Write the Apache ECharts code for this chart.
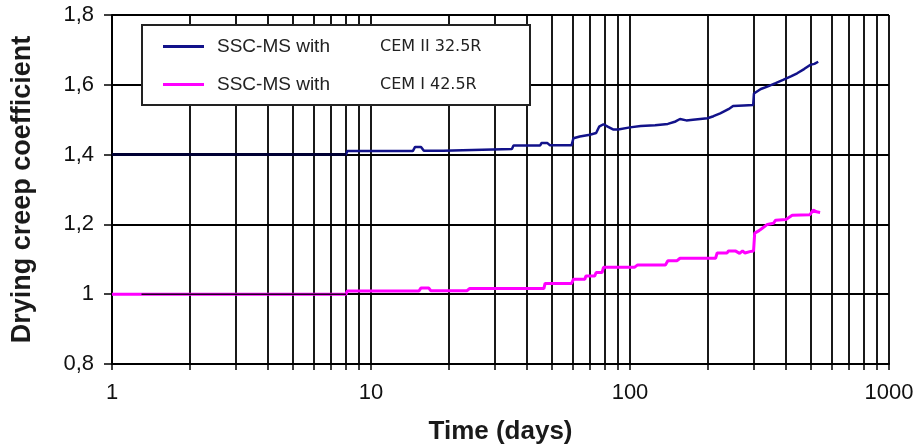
<!DOCTYPE html>
<html>
<head>
<meta charset="utf-8">
<script src="https://cdn.jsdelivr.net/npm/echarts@6/dist/echarts.min.js"></script>
<style>
  html, body { margin: 0; padding: 0; background: #fff; }
  #chart { width: 920px; height: 447px; }
</style>
</head>
<body>
<div id="chart"></div>
<script>
// tick values on the log time axis
const majorTicks = [1, 10, 100, 1000];
const allTicks = [1, 2, 3, 4, 5, 6, 7, 8, 9, 10, 20, 30, 40, 50, 60, 70, 80, 90,
  100, 200, 300, 400, 500, 600, 700, 800, 900, 1000];

// SSC-MS with CEM II 32.5R
const blueDays = [1, 8, 8.1, 14.5, 14.8, 15.6, 16, 19, 19.3, 35, 35.5, 45, 45.5, 48, 49, 59.5,
  60.5, 64, 70, 74, 76, 79, 82, 86, 90, 100, 110, 125, 140, 150, 156, 165, 175, 199,
  210, 223, 240, 250, 275, 299, 301, 305, 320, 339, 365, 390, 420, 442, 470, 496, 515, 533];
const blueValues = [1.4, 1.4, 1.41, 1.41, 1.422, 1.422, 1.411, 1.411, 1.416, 1.416, 1.426, 1.426, 1.433, 1.433, 1.427, 1.427,
  1.447, 1.452, 1.457, 1.462, 1.48, 1.487, 1.48, 1.472, 1.472, 1.478, 1.482, 1.484, 1.488, 1.495, 1.502, 1.498, 1.5, 1.504,
  1.51, 1.518, 1.53, 1.539, 1.541, 1.542, 1.575, 1.58, 1.588, 1.595, 1.605, 1.614, 1.625, 1.633, 1.645, 1.657, 1.66, 1.666];

// SSC-MS with CEM I 42.5R
const pinkDays = [1, 8, 8.1, 15.3, 15.6, 16.7, 17, 23.5, 24, 46.5, 47, 59.5, 60.5, 67, 67.5, 73, 74, 78,
  79, 104, 107, 137, 140, 152, 156, 214, 217, 237, 240, 255, 265, 272, 278, 290, 300,
  303, 315, 324, 339, 358, 365, 400, 423, 495, 510, 525, 542];
const pinkValues = [1.0, 1.0, 1.009, 1.009, 1.018, 1.018, 1.01, 1.01, 1.016, 1.016, 1.031, 1.031, 1.043, 1.043, 1.052, 1.052, 1.062, 1.062,
  1.077, 1.077, 1.084, 1.084, 1.096, 1.096, 1.103, 1.103, 1.118, 1.118, 1.124, 1.124, 1.117, 1.124, 1.118, 1.122, 1.124,
  1.175, 1.182, 1.189, 1.2, 1.203, 1.212, 1.214, 1.226, 1.228, 1.241, 1.236, 1.234];

// dark start segments under 8 days
const darkBlueDays = [1, 8];
const darkBlueValues = [1.4, 1.4];
const darkPinkDays = [1.3, 8];
const darkPinkValues = [1.0, 1.0];

const names = ['SSC-MS with CEM II 32.5R', 'SSC-MS with CEM I 42.5R'];

function zip(xs, ys) {
  return xs.map((x, i) => [x, ys[i]]);
}

const chart = echarts.init(document.getElementById('chart'));

const option = {
  backgroundColor: '#fff',
  animation: false,
  textStyle: { fontFamily: 'Liberation Sans, Arial, sans-serif' },
  grid: { left: 112, right: 31, top: 15, bottom: 83, containLabel: false, outerBoundsMode: 'none' },
  legend: {
    data: names,
    orient: 'vertical',
    left: 142,
    top: 25,
    padding: [12, 17, 11, 21],
    itemGap: 19,
    itemWidth: 41,
    itemHeight: 3,
    icon: 'rect',
    backgroundColor: '#fff',
    borderColor: '#222',
    borderWidth: 2,
    z: 10,
    formatter: function (name) {
      const i = name.indexOf('CEM');
      return '{a|' + name.slice(0, i).trim() + '}{b|' + name.slice(i) + '}';
    },
    textStyle: {
      rich: {
        a: { fontFamily: 'Liberation Sans, Arial', fontSize: 19, color: '#222', width: 163, padding: [0, 0, 0, 8], lineHeight: 20 },
        b: { fontFamily: 'DejaVu Sans', fontSize: 16, color: '#222', width: 133, lineHeight: 20 }
      }
    }
  },
  xAxis: {
    type: 'log',
    logBase: 10,
    min: 1,
    max: 1000,
    name: 'Time (days)',
    nameLocation: 'middle',
    nameGap: 55,
    nameTextStyle: { fontSize: 26, fontWeight: 'bold', color: '#1a1a1a' },
    axisLine: { lineStyle: { color: '#000', width: 2 } },
    axisTick: { customValues: allTicks, length: 6, lineStyle: { color: '#000', width: 1.5 } },
    axisLabel: { customValues: majorTicks, fontSize: 22, color: '#111', margin: 18, formatter: v => String(v) },
    splitLine: { show: true, lineStyle: { color: '#000', width: 1.8 } }
  },
  yAxis: {
    type: 'value',
    min: 0.8,
    max: 1.8,
    interval: 0.2,
    name: 'Drying creep coefficient',
    nameLocation: 'middle',
    nameGap: 76,
    nameTextStyle: { fontSize: 27, fontWeight: 'bold', color: '#1a1a1a' },
    axisLine: { show: true, lineStyle: { color: '#000', width: 2 } },
    axisTick: { show: true, length: 8, lineStyle: { color: '#000', width: 1.5 } },
    axisLabel: {
      fontSize: 22, color: '#111', margin: 18,
      formatter: v => String(+v.toFixed(1)).replace('.', ',')
    },
    splitLine: { show: true, lineStyle: { color: '#000', width: 1.8 } }
  },
  series: [
    {
      name: names[0], type: 'line', symbol: 'none', z: 3,
      lineStyle: { color: '#12128a', width: 2.5 },
      itemStyle: { color: '#12128a' },
      data: zip(blueDays, blueValues)
    },
    {
      name: names[1], type: 'line', symbol: 'none', z: 3,
      lineStyle: { color: '#ff00ff', width: 3 },
      itemStyle: { color: '#ff00ff' },
      data: zip(pinkDays, pinkValues)
    },
    {
      name: 'darkBlue', type: 'line', symbol: 'none', z: 4, silent: true,
      lineStyle: { color: '#000033', width: 3 },
      data: zip(darkBlueDays, darkBlueValues)
    },
    {
      name: 'darkPink', type: 'line', symbol: 'none', z: 4, silent: true,
      lineStyle: { color: '#200020', width: 1.5 },
      data: zip(darkPinkDays, darkPinkValues)
    }
  ]
};

chart.setOption(option);
window.addEventListener('resize', function () {
  chart.resize();
});
</script>
</body>
</html>
